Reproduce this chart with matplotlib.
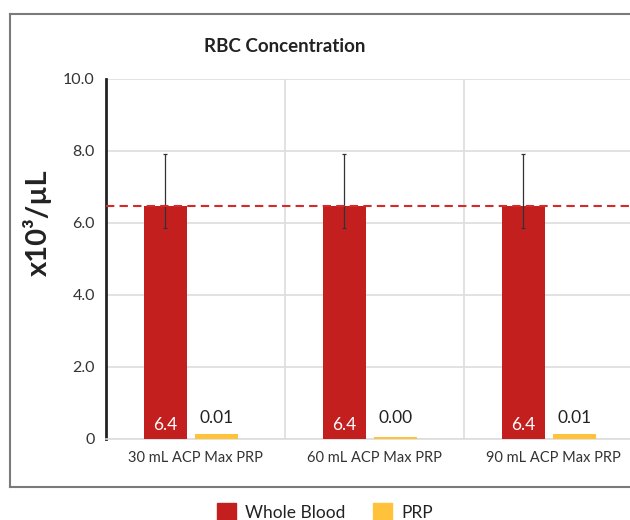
import numpy as np
import matplotlib
matplotlib.use("Agg")
import matplotlib.pyplot as plt
from matplotlib.lines import Line2D
from matplotlib.patches import Patch

plt.rcParams['font.family'] = ['Lato', 'DejaVu Sans']

categories = ["30 mL ACP Max PRP", "60 mL ACP Max PRP", "90 mL ACP Max PRP"]
whole_blood = [6.47, 6.47, 6.47]
wb_err_low = [0.60, 0.60, 0.60]
wb_err_high = [1.45, 1.45, 1.45]
wb_labels = ["6.4", "6.4", "6.4"]
prp_bar = [0.13, 0.05, 0.13]
prp_labels = ["0.01", "0.00", "0.01"]
baseline = 6.47
yticks = [0, 2, 4, 6, 8, 10]
ytick_labels = ["0", "2.0", "4.0", "6.0", "8.0", "10.0"]

red = "#C31F1F"
yellow = "#FFC23A"

fig = plt.figure(figsize=(6.3, 5.2), dpi=100)
ax = fig.add_axes([106 / 630, 1 - 439 / 520, 537 / 630, 360 / 520])

x = np.arange(len(categories))
bw = 0.24
ax.bar(x - 0.168, whole_blood, width=bw, color=red, zorder=3,
       yerr=[wb_err_low, wb_err_high], error_kw=dict(ecolor="#333333", elinewidth=0.9, capsize=1.5, capthick=0.9))
ax.bar(x + 0.117, prp_bar, width=bw, color=yellow, zorder=3)

for xi, lab in zip(x, wb_labels):
    ax.text(xi - 0.168, 0.38, lab, ha="center", va="center", color="white", fontsize=12.5, zorder=4)
for xi, lab in zip(x, prp_labels):
    ax.text(xi + 0.117, 0.58, lab, ha="center", va="center", color="#222222", fontsize=12.5, zorder=4)

ax.axhline(baseline, color="#D42A2A", linestyle=(0, (4, 2.5)), linewidth=1.5, zorder=4)

ax.set_xlim(-0.5, 2.5)
ax.set_ylim(0, 10)
ax.set_yticks(yticks)
ax.set_yticklabels(ytick_labels, fontsize=11.5, color="#333333")
ax.set_xticks(x)
ax.set_xticklabels(categories, fontsize=10.5, color="#333333")
ax.tick_params(axis="both", which="both", length=0, pad=8)
ax.tick_params(axis="x", pad=9)

ax.set_xticks([0.5, 1.5], minor=True)
ax.grid(axis="y", color="#DDDDDD", linewidth=1.2, zorder=0)
ax.grid(axis="x", which="minor", color="#DDDDDD", linewidth=1.2, zorder=0)
ax.grid(axis="x", which="major", visible=False)
for s in ["top", "right"]:
    ax.spines[s].set_visible(False)
ax.spines["bottom"].set_color("#DDDDDD")
ax.spines["bottom"].set_linewidth(1.2)
ax.spines["left"].set_color("#222222")
ax.spines["left"].set_linewidth(2)

ax.set_ylabel("x10³/µL", fontsize=21, fontweight="bold", color="#222222")
ax.yaxis.set_label_coords(-0.10, 0.60)

fig.text(285 / 630, 1 - 47 / 520, "RBC Concentration", ha="center", va="center",
         fontsize=13.5, fontweight="bold", color="#222222")

# outer frame
fc = "#7A7A7A"
fig.add_artist(Line2D([10 / 630, 1], [1 - 14 / 520, 1 - 14 / 520], color=fc, lw=1.5))
fig.add_artist(Line2D([10 / 630, 10 / 630], [1 - 14 / 520, 1 - 487 / 520], color=fc, lw=1.5))
fig.add_artist(Line2D([10 / 630, 1], [1 - 487 / 520, 1 - 487 / 520], color=fc, lw=1.5))

handles = [Patch(color=red, label="Whole Blood"), Patch(color=yellow, label="PRP")]
fig.legend(handles=handles, loc="center", bbox_to_anchor=(325 / 630, 1 - 512 / 520), ncol=2,
           frameon=False, fontsize=12.5, handlelength=1.1, handleheight=1.1, columnspacing=1.6,
           handletextpad=0.5, labelcolor="#222222")

fig.savefig("out.png", dpi=100)
